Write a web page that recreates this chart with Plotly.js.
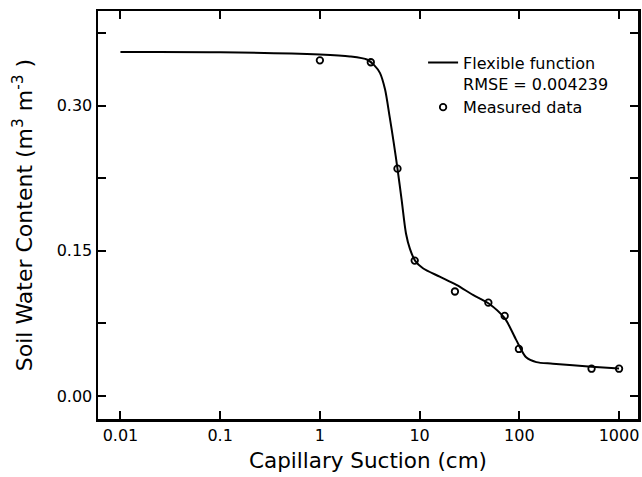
<!DOCTYPE html>
<html>
<head>
<meta charset="utf-8">
<script src="https://cdn.plot.ly/plotly-3.0.1.min.js"></script>
<style>html,body{margin:0;padding:0;background:#fff;}#chart{width:642px;height:477px;}</style>
</head>
<body>
<div id="chart"></div>
<script>
// Measured data
const measuredSuction = [1, 3.24, 6.0, 8.93, 22.6, 48.9, 71.3, 99, 530, 1000];
const measuredTheta   = [0.347, 0.345, 0.235, 0.140, 0.108, 0.0965, 0.0828, 0.0486, 0.0282, 0.0282];

// Fitted flexible function
const fitSuction = [0.01, 0.1, 1, 2, 3, 3.5, 4, 4.5, 5, 5.5, 6, 6.6, 7.3, 8, 9, 10.8, 15.9, 23.4, 34.3, 48.9, 71.3, 93, 117, 148, 217, 530, 1000];
const fitTheta   = [0.3555, 0.3553, 0.353, 0.351, 0.3476, 0.342, 0.334, 0.317, 0.289, 0.262, 0.235, 0.203, 0.168, 0.152, 0.140, 0.132, 0.1234, 0.1148, 0.1045, 0.0959, 0.0804, 0.058, 0.040, 0.035, 0.0334, 0.0303, 0.0285];

const xTickVals = [0.01, 0.1, 1, 10, 100, 1000];
const xTickText = ['0.01', '0.1', '1', '10', '100', '1000'];
const yTickVals = [0, 0.15, 0.30];
const yTickText = ['0.00', '0.15', '0.30'];
const yMinorVals = [0.075, 0.225, 0.375];

const traces = [
  {
    x: fitSuction, y: fitTheta, type: 'scatter', mode: 'lines',
    name: 'Flexible function<br>RMSE = 0.004239',
    line: {color: '#000', width: 2, shape: 'spline', smoothing: 0.8}
  },
  {
    x: measuredSuction, y: measuredTheta, type: 'scatter', mode: 'markers',
    name: 'Measured data',
    marker: {symbol: 'circle-open', size: 6.5, color: '#000', line: {color: '#000', width: 1.8}}
  }
];

const font = 'DejaVu Sans, Verdana, sans-serif';
const layout = {
  width: 642, height: 477,
  margin: {l: 98, r: 4, t: 11, b: 58},
  paper_bgcolor: '#fff', plot_bgcolor: '#fff',
  font: {family: font, color: '#000', size: 16},
  showlegend: true,
  legend: {
    x: 0.602, y: 0.915, xanchor: 'left', yanchor: 'top',
    bgcolor: 'rgba(0,0,0,0)', borderwidth: 0,
    font: {family: font, size: 16, color: '#000'},
    valign: 'top', tracegroupgap: 0, itemwidth: 30
  },
  xaxis: {
    type: 'log', range: [-2.225, 3.19],
    tickvals: xTickVals, ticktext: xTickText,
    ticks: 'inside', ticklen: 8, tickwidth: 2, tickcolor: '#000',
    showline: true, linewidth: 2.5, linecolor: '#000', mirror: 'ticks',
    showgrid: false, zeroline: false,
    tickfont: {family: font, size: 16},
    title: {text: 'Capillary Suction (cm)', font: {family: font, size: 21.5}, standoff: 9}
  },
  yaxis: {
    range: [-0.0238, 0.398],
    tickvals: yTickVals, ticktext: yTickText,
    minor: {tickvals: yMinorVals, ticks: 'inside', ticklen: 8, tickwidth: 2, tickcolor: '#000', showgrid: false},
    ticks: 'inside', ticklen: 8, tickwidth: 2, tickcolor: '#000',
    showline: true, linewidth: 2.5, linecolor: '#000', mirror: 'ticks',
    showgrid: false, zeroline: false,
    tickfont: {family: font, size: 16},
    title: {text: 'Soil Water Content (m<sup>3</sup> m<sup>-3</sup> )', font: {family: font, size: 22}, standoff: 18}
  }
};

Plotly.newPlot('chart', traces, layout, {displayModeBar: false, staticPlot: true});
</script>
</body>
</html>
